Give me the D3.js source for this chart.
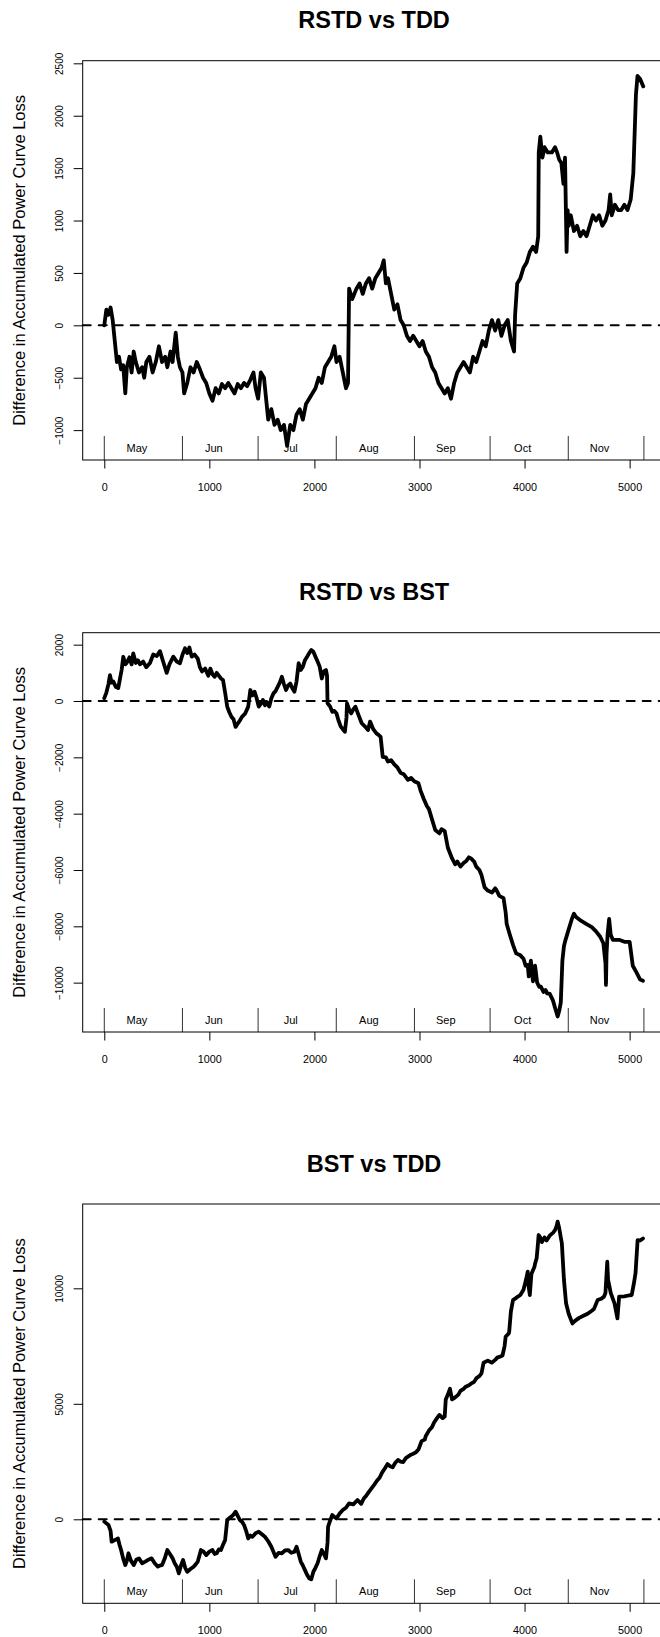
<!DOCTYPE html>
<html>
<head>
<meta charset="utf-8">
<script src="https://cdn.jsdelivr.net/npm/d3@7"></script>
<style>
  html, body { margin: 0; padding: 0; background: #fff; }
  svg { display: block; }
  text { font-family: "Liberation Sans", Arial, Helvetica, sans-serif; fill: #000; }
</style>
</head>
<body>
<svg id="chart" width="660" height="1637"></svg>
<script>
// ---------------- DATA ----------------
const titles = ["RSTD vs TDD", "RSTD vs BST", "BST vs TDD"];
const yAxisTitle = "Difference in Accumulated Power Curve Loss";
const months = ["May", "Jun", "Jul", "Aug", "Sep", "Oct", "Nov"];
const monthBounds = [0, 744, 1464, 2208, 2952, 3672, 4416, 5136];
const xTicks = [0, 1000, 2000, 3000, 4000, 5000];
const yTicks1 = [-1000, -500, 0, 500, 1000, 1500, 2000, 2500];
const yTicks2 = [-10000, -8000, -6000, -4000, -2000, 0, 2000];
const yTicks3 = [0, 5000, 10000];

// series 1: RSTD vs TDD  (hour, value)
const hours1 = [0,20,40,60,80,100,120,140,160,180,200,215,240,260,280,300,330,360,380,400,430,460,490,520,550,580,600,630,650,680,700,720,744,760,790,820,850,880,910,940,970,1000,1030,1060,1090,1120,1150,1180,1210,1240,1270,1300,1330,1360,1390,1420,1440,1464,1490,1520,1560,1590,1620,1650,1680,1710,1740,1770,1800,1830,1860,1890,1920,1950,1980,2010,2040,2070,2100,2130,2160,2190,2210,2240,2270,2300,2320,2330,2360,2400,2430,2460,2490,2520,2550,2580,2610,2640,2660,2680,2700,2730,2760,2790,2820,2850,2880,2910,2940,2970,3000,3030,3060,3090,3120,3150,3180,3210,3240,3270,3300,3330,3360,3390,3420,3450,3480,3510,3540,3570,3600,3630,3660,3690,3720,3750,3780,3810,3840,3870,3900,3910,3930,3960,3990,4020,4050,4080,4110,4130,4135,4150,4170,4190,4220,4260,4290,4310,4330,4350,4370,4385,4395,4400,4410,4420,4440,4470,4500,4530,4560,4590,4620,4650,4680,4710,4740,4770,4800,4815,4830,4860,4890,4920,4950,4980,5010,5035,5060,5075,5100,5130];
const values1 = [0,150,100,170,50,-150,-350,-300,-420,-380,-650,-400,-300,-450,-250,-350,-450,-400,-500,-350,-300,-450,-350,-200,-350,-300,-400,-250,-350,-70,-300,-400,-450,-650,-550,-400,-450,-350,-420,-500,-550,-650,-720,-600,-650,-560,-600,-550,-600,-650,-560,-600,-550,-580,-520,-450,-600,-700,-450,-500,-900,-800,-950,-900,-1000,-950,-1150,-950,-1000,-850,-800,-900,-750,-700,-650,-600,-500,-550,-400,-350,-300,-200,-350,-300,-450,-600,-550,350,250,350,400,300,400,450,350,450,500,550,620,400,450,300,150,200,50,0,-100,-150,-100,-150,-200,-150,-250,-300,-400,-450,-550,-600,-650,-600,-700,-550,-450,-400,-350,-400,-450,-300,-350,-250,-150,-200,-50,50,-50,50,-100,0,50,-150,-250,100,400,450,550,600,700,750,700,850,1650,1800,1600,1700,1650,1650,1700,1650,1580,1550,1350,1600,1000,700,1100,950,1050,900,950,850,900,850,950,1050,1000,1050,950,1000,1100,1250,1050,1150,1100,1100,1150,1100,1200,1450,2200,2380,2350,2280];

// series 2: RSTD vs BST
const hours2 = [0,20,40,54,70,86,110,133,150,165,181,200,213,240,260,276,300,320,340,370,400,435,466,500,530,560,594,620,657,690,720,745,768,790,810,832,860,890,910,930,960,990,1010,1030,1050,1070,1090,1110,1130,1150,1170,1190,1210,1230,1250,1270,1290,1310,1340,1370,1390,1410,1430,1450,1470,1490,1510,1530,1550,1570,1590,1610,1630,1650,1670,1690,1710,1730,1750,1770,1790,1810,1830,1850,1870,1890,1910,1930,1950,1970,1990,2010,2030,2050,2070,2090,2110,2120,2125,2150,2170,2190,2210,2230,2250,2270,2290,2305,2310,2330,2350,2370,2390,2420,2450,2480,2510,2530,2560,2590,2610,2630,2650,2680,2700,2730,2760,2790,2820,2850,2890,2920,2950,2990,3010,3040,3070,3090,3120,3150,3190,3210,3240,3270,3310,3340,3360,3390,3420,3440,3470,3490,3520,3540,3570,3590,3620,3650,3690,3720,3730,3760,3800,3820,3830,3860,3890,3920,3960,3990,4010,4030,4040,4060,4080,4100,4120,4140,4155,4180,4200,4215,4240,4270,4290,4315,4330,4345,4360,4375,4390,4420,4450,4470,4490,4540,4590,4640,4680,4720,4750,4770,4775,4780,4790,4805,4820,4840,4900,4950,5000,5030,5060,5100,5127];
const values2 = [100,300,600,920,650,690,500,460,800,1100,1570,1300,1350,1550,1300,1690,1350,1450,1300,1400,1200,1350,1650,1600,1770,1400,1000,1300,1575,1400,1340,1650,1870,1700,1900,1575,1650,1500,1200,1050,1150,900,1150,950,860,1000,900,800,745,300,-200,-400,-560,-650,-920,-800,-700,-560,-450,-200,390,200,330,100,-200,-100,40,-150,-50,-200,100,270,350,500,650,860,600,390,550,620,450,330,700,1340,1100,1220,1450,1570,1700,1810,1750,1570,1400,1220,800,1050,1100,900,-80,-200,-380,-350,-440,-700,-900,-1000,-1090,-600,-80,-300,-440,-300,-200,-500,-790,-900,-1030,-730,-1000,-1150,-1200,-1270,-1980,-2000,-2150,-2100,-2250,-2360,-2550,-2600,-2800,-2730,-2850,-2920,-3180,-3470,-3730,-3840,-4210,-4580,-4700,-4550,-4620,-5210,-5590,-5800,-5700,-5880,-5750,-5700,-5550,-5590,-5700,-5880,-6000,-6180,-6620,-6730,-6800,-6650,-6700,-6920,-7000,-7500,-7920,-8300,-8660,-8960,-9030,-9150,-9400,-9370,-9780,-9220,-9950,-9400,-10000,-10150,-10140,-10330,-10260,-10380,-10400,-10630,-10890,-11200,-11000,-10700,-9220,-8700,-8480,-8110,-7740,-7550,-7670,-7810,-7920,-8030,-8180,-8370,-8600,-9300,-10080,-9000,-8300,-7740,-8300,-8480,-8480,-8550,-8550,-9400,-9600,-9890,-9930];

// series 3: BST vs TDD
const hours3 = [0,40,60,70,100,130,145,160,180,200,215,230,255,280,305,330,360,390,420,450,480,510,530,550,575,600,625,650,670,690,710,730,750,770,790,820,850,870,890,920,945,970,1000,1030,1050,1070,1090,1110,1130,1150,1170,1190,1210,1230,1250,1270,1290,1310,1330,1350,1370,1390,1410,1440,1470,1500,1530,1560,1590,1610,1630,1660,1690,1720,1750,1780,1810,1830,1850,1870,1890,1910,1930,1950,1970,1990,2010,2030,2050,2070,2090,2110,2125,2130,2150,2170,2190,2210,2240,2270,2300,2330,2370,2410,2445,2470,2495,2520,2545,2570,2595,2620,2645,2670,2695,2720,2745,2770,2795,2820,2845,2870,2890,2920,2940,2965,2990,3020,3050,3060,3090,3120,3140,3170,3190,3220,3240,3250,3270,3290,3310,3340,3370,3390,3420,3440,3470,3490,3520,3540,3570,3590,3610,3650,3690,3720,3740,3770,3790,3810,3820,3850,3854,3870,3890,3914,3930,3960,3990,4015,4030,4035,4050,4065,4094,4100,4115,4125,4134,4150,4165,4190,4210,4240,4270,4290,4305,4315,4330,4345,4355,4375,4395,4420,4455,4480,4520,4560,4600,4640,4660,4695,4730,4756,4770,4787,4795,4820,4856,4884,4900,4950,5000,5020,5040,5056,5076,5100,5127];
const values3 = [-100,-245,-500,-970,-900,-830,-1100,-1330,-1700,-1980,-1800,-1470,-1800,-1980,-1750,-1690,-1900,-1830,-1750,-1690,-1900,-2050,-2000,-1980,-1700,-1330,-1500,-1690,-1900,-2050,-2340,-2000,-1760,-2100,-2270,-2150,-2050,-1950,-1830,-1330,-1400,-1550,-1400,-1330,-1500,-1470,-1300,-1330,-1100,-900,-30,50,115,200,330,150,-30,-100,-245,-500,-830,-700,-760,-600,-540,-650,-760,-950,-1190,-1400,-1620,-1450,-1470,-1350,-1330,-1450,-1400,-1190,-1500,-1830,-2000,-2200,-2400,-2550,-2600,-2270,-2100,-1900,-1600,-1330,-1500,-1690,-1000,-320,-50,186,100,40,250,400,500,690,650,835,670,900,1035,1200,1350,1500,1670,1800,2030,2200,2390,2300,2255,2450,2570,2500,2480,2650,2710,2800,2840,2900,3020,3385,3450,3610,3840,4000,4200,4400,4520,4380,4450,5190,5400,5650,5190,5280,5400,5560,5650,5740,5800,5870,5950,6100,6200,6320,6780,6870,6780,6900,7000,7050,7090,7500,7900,8050,8130,9000,9490,9565,9620,9710,9940,10390,10720,10220,9710,10620,10930,11070,11300,11800,12307,12200,12000,12200,12070,12290,12400,12520,12700,12883,12600,12200,11950,10360,9350,8900,8480,8590,8720,8810,8900,9030,9100,9490,9550,9640,9800,11150,10360,9800,9350,8700,9640,9650,9700,9710,10200,10650,12090,12070,12160];

// ---------------- LAYOUT ----------------
const svg = d3.select("#chart");
svg.append("rect").attr("width", 660).attr("height", 1637).attr("fill", "#fff");

const panelTops = [60.7, 632.7, 1204];
const plotH = 399.3;
const plotL = 82.7, plotR = 665.5;
const yDomains = [[-1285, 2525], [-11752, 2425], [-3636, 13650]];
const seriesH = [hours1, hours2, hours3];
const seriesV = [values1, values2, values3];
const yTicksAll = [yTicks1, yTicks2, yTicks3];

const x = d3.scaleLinear().domain([-205.4, 5341.4]).range([plotL, plotR]);

panelTops.forEach((top, i) => {
  const bottom = top + plotH;
  const y = d3.scaleLinear().domain(yDomains[i]).range([bottom, top]);
  const g = svg.append("g");

  // title
  g.append("text")
    .attr("x", (plotL + plotR) / 2)
    .attr("y", top - 32.4)
    .attr("text-anchor", "middle")
    .style("font-size", "23.5px")
    .style("font-weight", "bold")
    .text(titles[i]);

  // y axis title
  g.append("text")
    .attr("transform", `translate(25,${(top + bottom) / 2}) rotate(-90)`)
    .attr("text-anchor", "middle")
    .style("font-size", "16.5px")
    .text(yAxisTitle);

  // month separators + labels
  const mb = g.append("g");
  monthBounds.forEach(h => {
    mb.append("line")
      .attr("x1", x(h)).attr("x2", x(h))
      .attr("y1", bottom - 24).attr("y2", bottom)
      .attr("stroke", "#333").attr("stroke-width", 1);
  });
  months.forEach((m, k) => {
    mb.append("text")
      .attr("x", x((monthBounds[k] + monthBounds[k + 1]) / 2) - 6.5)
      .attr("y", bottom - 8)
      .attr("text-anchor", "middle")
      .style("font-size", "11px")
      .text(m);
  });

  // zero dashed line
  g.append("line")
    .attr("x1", plotL).attr("x2", plotR)
    .attr("y1", y(0)).attr("y2", y(0))
    .attr("stroke", "#000").attr("stroke-width", 2)
    .attr("stroke-dasharray", "8,8").attr("stroke-linecap", "round");

  // data line
  const pts = seriesH[i].map((h, k) => [h, seriesV[i][k]]);
  g.append("path")
    .datum(pts)
    .attr("fill", "none")
    .attr("stroke", "#000")
    .attr("stroke-width", 3.8)
    .attr("stroke-linejoin", "round")
    .attr("stroke-linecap", "round")
    .attr("d", d3.line().x(d => x(d[0])).y(d => y(d[1])));

  // box
  g.append("rect")
    .attr("x", plotL).attr("y", top)
    .attr("width", plotR - plotL).attr("height", plotH)
    .attr("fill", "none").attr("stroke", "#000").attr("stroke-width", 1);

  // y axis
  const ya = g.append("g").attr("transform", `translate(${plotL},0)`)
    .call(d3.axisLeft(y).tickValues(yTicksAll[i]).tickSize(9).tickFormat(d3.format("d")));
  ya.select(".domain").remove();
  ya.selectAll(".tick line").attr("stroke", "#000");
  ya.selectAll(".tick text")
    .attr("transform", "rotate(-90)")
    .attr("x", 0).attr("y", -19.7).attr("dy", 0)
    .attr("text-anchor", "middle")
    .style("font-size", "10px")
    .style("font-family", "'Liberation Sans', Arial, sans-serif")
    .attr("fill", "#000");

  // x axis
  const xa = g.append("g").attr("transform", `translate(0,${bottom})`)
    .call(d3.axisBottom(x).tickValues(xTicks).tickSize(8.5).tickFormat(d3.format("d")));
  xa.select(".domain").remove();
  xa.selectAll(".tick line").attr("stroke", "#000");
  xa.selectAll(".tick text")
    .attr("y", 31).attr("dy", 0)
    .style("font-size", "10.8px")
    .style("font-family", "'Liberation Sans', Arial, sans-serif")
    .attr("fill", "#000");
});
</script>
</body>
</html>
